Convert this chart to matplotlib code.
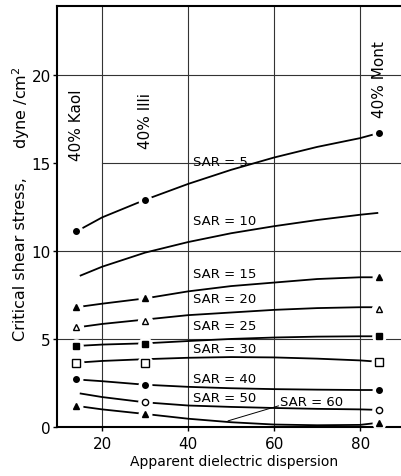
import matplotlib.pyplot as plt

plt.rcParams['font.family'] = ['DejaVu Sans']

# clay contents (apparent dielectric dispersion of 40% Kaol, Illi, Mont)
clay_x = [14, 30, 84.5]
clay_names = ['40% Kaol', '40% Illi', '40% Mont']

# curve sample points
curve_x = [14, 20, 30, 40, 50, 60, 70, 80, 84.5]
curve_x10 = [15, 20, 30, 40, 50, 60, 70, 80, 84]
curve_x50 = [15, 20, 30, 40, 50, 60, 70, 80, 84.5]

sar5 = [11.1, 11.9, 12.9, 13.8, 14.6, 15.3, 15.9, 16.4, 16.7]
sar10 = [8.6, 9.1, 9.9, 10.5, 11.0, 11.4, 11.75, 12.05, 12.15]
sar15 = [6.8, 7.0, 7.3, 7.7, 8.0, 8.2, 8.4, 8.5, 8.5]
sar20 = [5.65, 5.85, 6.1, 6.35, 6.5, 6.65, 6.75, 6.8, 6.8]
sar25 = [4.6, 4.68, 4.75, 4.88, 5.0, 5.08, 5.13, 5.15, 5.15]
sar30 = [3.65, 3.75, 3.85, 3.93, 3.97, 3.95, 3.88, 3.78, 3.7]
sar40 = [2.7, 2.6, 2.4, 2.28, 2.2, 2.15, 2.12, 2.1, 2.1]
sar50 = [1.9, 1.7, 1.4, 1.22, 1.14, 1.08, 1.03, 1.0, 0.97]
sar60 = [1.2, 1.0, 0.74, 0.47, 0.27, 0.14, 0.1, 0.12, 0.25]

# measured points (at clay_x)
pts5 = [11.1, 12.9, 16.7]
pts15 = [6.8, 7.3, 8.5]
pts20 = [5.65, 6.0, 6.7]
pts25 = [4.6, 4.7, 5.15]
pts30 = [3.65, 3.65, 3.7]
pts40 = [2.7, 2.4, 2.1]
pts50 = [None, 1.4, 0.97]
pts60 = [1.2, 0.74, 0.25]

fig = plt.figure(figsize=(4.01, 4.77), dpi=100)
ax = fig.add_axes([57 / 401, 49 / 477, 344 / 401, 421 / 477])
ax.set_xlim(9.5, 89.5)
ax.set_ylim(0, 23.9)

# grid
for gx in [20, 40, 60, 80]:
    ax.axvline(gx, color='#333333', lw=0.8, zorder=1)
for gy in [5, 10, 20]:
    ax.axhline(gy, color='#333333', lw=0.8, zorder=1)
ax.axhline(15, xmin=(20 - 9.5) / 80, color='#333333', lw=0.8, zorder=1)

lw = 1.3
ax.plot(curve_x, sar5, color='black', lw=lw, zorder=2)
ax.plot(curve_x10, sar10, color='black', lw=lw, zorder=2)
ax.plot(curve_x, sar15, color='black', lw=lw, zorder=2)
ax.plot(curve_x, sar20, color='black', lw=lw, zorder=2)
ax.plot(curve_x, sar25, color='black', lw=lw, zorder=2)
ax.plot(curve_x, sar30, color='black', lw=lw, zorder=2)
ax.plot(curve_x, sar40, color='black', lw=lw, zorder=2)
ax.plot(curve_x50, sar50, color='black', lw=lw, zorder=2)
ax.plot(curve_x, sar60, color='black', lw=lw, zorder=2)

marker_sets = [
    (pts5, 'o', 'black', 4),
    (pts15, '^', 'black', 4),
    (pts20, '^', 'white', 5),
    (pts25, 's', 'black', 4.5),
    (pts30, 's', 'white', 5.5),
    (pts40, 'o', 'black', 4),
    (pts50, 'o', 'white', 4.5),
    (pts60, '^', 'black', 4),
]
for vals, m, fc, ms in marker_sets:
    xs = [x for x, v in zip(clay_x, vals) if v is not None]
    ys = [v for v in vals if v is not None]
    # white halo to break the line around the marker
    ax.plot(xs, ys, ls='none', marker='o', ms=ms + 5, mfc='white', mec='white', zorder=3)
    ax.plot(xs, ys, ls='none', marker=m, ms=ms, mfc=fc, mec='black', mew=1.0, zorder=4)

# curve labels
labels = ['SAR = 5', 'SAR = 10', 'SAR = 15', 'SAR = 20', 'SAR = 25',
          'SAR = 30', 'SAR = 40', 'SAR = 50']
label_y = [15.1, 11.7, 8.7, 7.27, 5.74, 4.43, 2.73, 1.7]
for t, ly in zip(labels, label_y):
    ax.text(41.2, ly, t, fontsize=9.5, va='center', ha='left', zorder=5)
ax.text(61.4, 1.42, 'SAR = 60', fontsize=9.5, va='center', ha='left', zorder=5)
ax.plot([61.0, 49.3], [1.2, 0.35], color='black', lw=0.7, zorder=2)

# clay labels
clay_label_y = [17.2, 17.45, 19.8]
for cx, name, cy in zip(clay_x, clay_names, clay_label_y):
    ax.text(cx, cy, name, rotation=90, fontsize=11, ha='center', va='center')

ax.set_xticks([20, 40, 60, 80])
ax.set_yticks([0, 5, 10, 15, 20])
ax.set_yticklabels(['0', '5', '10', '15', '20'])
ax.tick_params(labelsize=11, length=3, width=1, direction='out')
ax.tick_params(axis='y', pad=1.5)
for s in ['left', 'bottom', 'top']:
    ax.spines[s].set_linewidth(1.5)
ax.spines['right'].set_visible(False)

fig.text(234 / 401, 1 - 462 / 477, 'Apparent dielectric dispersion',
         fontsize=10, ha='center', va='center')
fig.text(21 / 401, 1 - 259 / 477, 'Critical shear stress,', rotation=90,
         fontsize=11.5, ha='center', va='center')
fig.text(21 / 401, 1 - 108 / 477, 'dyne /cm$^2$', rotation=90,
         fontsize=11.5, ha='center', va='center')

fig.savefig('out.png', dpi=100)
